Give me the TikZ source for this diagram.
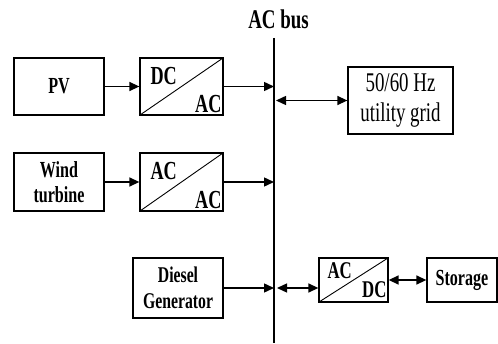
\documentclass[tikz,border=0pt]{standalone}
\usepackage{fontspec}
\setmainfont{Liberation Serif}
\newfontfamily\diagfont[FakeStretch=0.7]{Liberation Serif}
\usetikzlibrary{arrows.meta}

\tikzset{
  blk/.style={draw, line width=1.3pt, minimum width=90pt, minimum height=57pt, align=center, inner sep=0pt,
    font=\diagfont\bfseries\fontsize{23}{25}\selectfont},
  conv/.style={draw, line width=1.3pt, minimum width=83pt, minimum height=57pt, inner sep=0pt,
    path picture={\draw[line width=0.9pt] (path picture bounding box.south west) -- (path picture bounding box.north east);}},
  convtxt/.style={inner sep=0pt, font=\diagfont\bfseries\fontsize{26}{28}\selectfont},
  link/.style={line width=1.4pt, -{Triangle[length=10pt,width=9pt]}},
  dlink/.style={line width=1.4pt, {Triangle[length=10pt,width=9pt]}-{Triangle[length=10pt,width=9pt]}},
}

\begin{document}
\begin{tikzpicture}[x=1pt, y=1pt]
		\useasboundingbox (0,0) rectangle (498,343);

		% AC bus
		\coordinate (bustop) at (274,305);
		\coordinate (busbot) at (274,0);
		\draw[line width=1.3pt] (bustop) -- (busbot);
		\node[font=\diagfont\bfseries\fontsize{27}{30}\selectfont] (buslabel) at (278.5,324) {AC bus};

		% PV branch
		\node[blk] (pv) at (59,256.5) {PV};
		\node[conv] (conv1) at (181.5,256.5) {};
		\node[convtxt, anchor=base west] (conv1in) at ([shift={(11,-27)}]conv1.north west) {DC};
		\node[convtxt, anchor=base east] (conv1out) at ([shift={(-2,3)}]conv1.south east) {AC};
		\draw[link] (pv) -- (conv1);
		\draw[link] (conv1) -- (conv1 -| bustop);

		% Wind branch
		\node[blk, minimum height=58pt] (wind) at (59,161) {Wind\\turbine};
		\node[conv, minimum height=58pt] (conv2) at (181.5,161) {};
		\node[convtxt, anchor=base west] (conv2in) at ([shift={(11,-27)}]conv2.north west) {AC};
		\node[convtxt, anchor=base east] (conv2out) at ([shift={(-2,3)}]conv2.south east) {AC};
		\draw[link] (wind) -- (conv2);
		\draw[link] (conv2) -- (conv2 -| bustop);

		% Utility grid
		\node[blk, minimum width=105pt, minimum height=67pt, font=\diagfont\fontsize{27}{30}\selectfont] (grid) at (400.5,242.5) {50/60 Hz\\utility grid};
		\draw[dlink] ([xshift=2pt]grid.west -| bustop) -- (grid.west);

		% Diesel generator
		\node[blk, minimum height=60pt, font=\diagfont\bfseries\fontsize{22.5}{26}\selectfont] (diesel) at (178,55) {Diesel\\Generator};
		\draw[link] (diesel) -- (diesel -| bustop);

		% Storage branch
		\node[conv, minimum width=69pt, minimum height=44pt] (conv3) at (353.5,63) {};
		\node[convtxt, anchor=base west, font=\diagfont\bfseries\fontsize{24}{26}\selectfont] (conv3in) at ([shift={(9,-21)}]conv3.north west) {AC};
		\node[convtxt, anchor=base east, font=\diagfont\bfseries\fontsize{24}{26}\selectfont] (conv3out) at ([shift={(-2,5)}]conv3.south east) {DC};
		\node[blk, minimum width=70pt, minimum height=44pt] (storage) at (462,63) {Storage};
		\draw[dlink] ([xshift=3pt]diesel.east -| bustop) -- (diesel.east -| conv3.west);
		\draw[dlink] (conv3) -- (storage);
\end{tikzpicture}
\end{document}
